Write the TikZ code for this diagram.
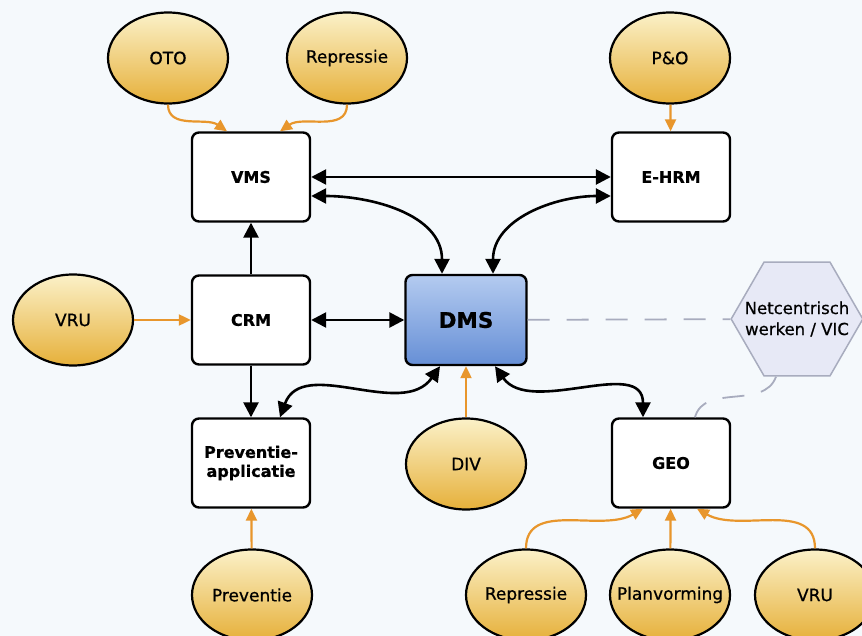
\documentclass[tikz,border=0pt]{standalone}
\usepackage{fontspec}
\setmainfont{DejaVu Sans}
\newfontfamily\srcfont{DejaVu Sans}[BoldFont=DejaVu Sans, BoldFeatures={FakeBold=0.7}]
\newfontfamily\sysfont{DejaVu Sans}[BoldFont=DejaVu Sans Bold, BoldFeatures={FakeBold=0.8}]
\usepackage{xcolor}
\usetikzlibrary{
    arrows.meta,
    shapes.geometric,
    calc,
    positioning
}

\definecolor{feedorange}{HTML}{E8962C}
\definecolor{srctop}{HTML}{FBF1C8}
\definecolor{srcbot}{HTML}{E6B03A}
\definecolor{dmstop}{HTML}{B4CBF0}
\definecolor{dmsbot}{HTML}{668FD6}
\definecolor{hexfill}{HTML}{E7E9F6}
\definecolor{hexline}{HTML}{A8ACBE}
\definecolor{bgcol}{HTML}{F5F9FC}

\tikzset{
    sysbox/.style={draw, line width=2.4pt, rounded corners=7pt, fill=white,
        minimum width=118pt, minimum height=89pt, align=center,
        font=\sysfont\fontsize{16}{19}\selectfont\bfseries},
    dmsbox/.style={sysbox, top color=dmstop, bottom color=dmsbot,
        minimum width=121pt, minimum height=90pt,
        font=\sysfont\fontsize{21.5}{25}\selectfont\bfseries},
    bron/.style={ellipse, draw, line width=2.2pt, top color=srctop, bottom color=srcbot,
        minimum width=120pt, minimum height=91pt, inner sep=-12pt,
        font=\srcfont\fontsize{17}{20}\selectfont\bfseries},
    hexnode/.style={regular polygon, regular polygon sides=6, draw=hexline, fill=hexfill,
        line width=1.5pt, minimum size=130pt, inner sep=-12pt, align=center,
        font=\srcfont\fontsize{16.5}{21}\selectfont\bfseries},
    link/.style={line width=2.6pt},
    feed/.style={feedorange, line width=2.2pt},
    bk/.style={-{Triangle[length=15pt,width=15pt]}},
    bkk/.style={{Triangle[length=15pt,width=15pt]}-{Triangle[length=15pt,width=15pt]}},
    og/.style={-{Triangle[length=12pt,width=11pt]}},
    dashlink/.style={hexline, line width=1.8pt, dash pattern=on 22pt off 17pt}
}

\begin{document}
\begin{tikzpicture}[x=1pt, y=-1pt]
    \useasboundingbox (0, 0) rectangle (862, 636);
    \clip (0, 0) rectangle (862, 636);
    \fill[bgcol] (0, 0) rectangle (862, 636);

    % sources
    \node[bron] (oto) at (168, 58) {OTO};
    \node[bron] (rep1) at (347, 58) {Repressie};
    \node[bron] (po) at (670, 58) {P\&O};
    \node[bron] (vru1) at (73, 320) {VRU};
    \node[bron] (div) at (466, 464) {DIV};
    \node[bron] (prevsrc) at (252, 595) {Preventie};
    \node[bron] (rep2) at (526, 595) {Repressie};
    \node[bron] (plan) at (670, 595) {Planvorming};
    \node[bron] (vru2) at (815, 595) {VRU};

    % systems
    \node[sysbox] (vms) at (251, 177) {VMS};
    \node[sysbox] (ehrm) at (671, 177) {E-HRM};
    \node[sysbox] (crm) at (251, 320) {CRM};
    \node[dmsbox] (dms) at (466, 320) {DMS};
    \node[sysbox] (prev) at (251, 463) {Preventie-\\applicatie};
    \node[sysbox] (geo) at (671, 463) {GEO};
    \node[hexnode] (hex) at (797, 319) {Netcentrisch\\werken / VIC};

    \draw[dashlink] (dms) -- (hex);
    \draw[dashlink] (hex.250) to[out=-110, in=75] ([xshift=24pt]geo.north);

    \draw[link]
    (vms) edge[bkk] (ehrm)
    (crm) edge[bk] (vms)
    (crm) edge[bkk] (dms)
    (crm) edge[bk] (prev)
    ([yshift=-19pt]vms.east) edge[bkk, out=0, in=90] ([xshift=-24pt]dms.north)
    ([yshift=-19pt]ehrm.west) edge[bkk, out=180, in=90] ([xshift=27pt]dms.north)
    ([xshift=29pt]prev.north) edge[bkk, out=70, in=-125] ([xshift=-26pt]dms.south)
    ([xshift=29pt]dms.south) edge[bkk, out=-55, in=90] ([xshift=-28pt]geo.north);

    \draw[feed]
    (oto.south) edge[og, out=-90, in=145] ([xshift=-24pt]vms.north)
    (rep1.south) edge[og, out=-90, in=35] ([xshift=29pt]vms.north)
    (po) edge[og] (ehrm)
    (vru1) edge[og] (crm)
    (div) edge[og] (dms)
    (prevsrc) edge[og] (prev)
    (plan) edge[og] (geo)
    (rep2.north) edge[og, out=90, in=-150] ([xshift=-28pt]geo.south)
    (vru2.north) edge[og, out=90, in=-30] ([xshift=26pt]geo.south);
\end{tikzpicture}
\end{document}
